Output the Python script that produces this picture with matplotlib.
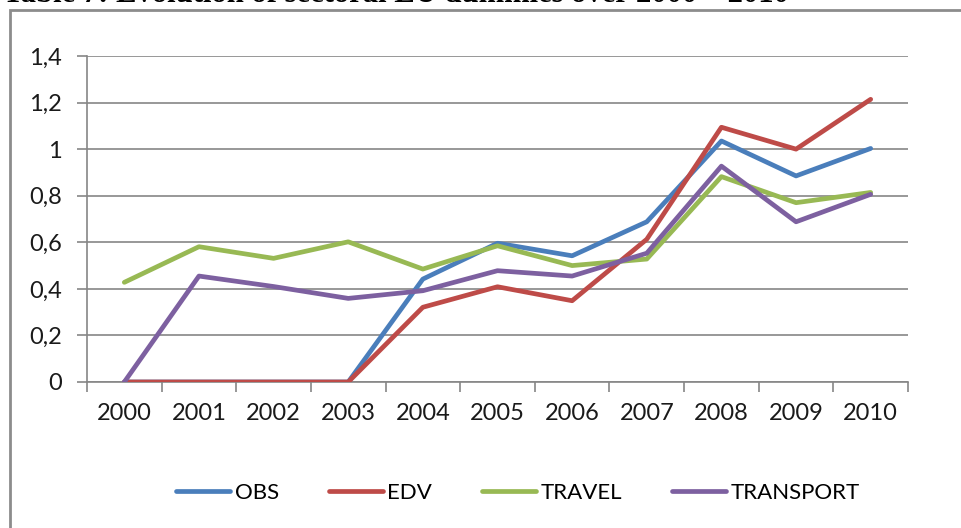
import matplotlib
matplotlib.use("Agg")
import matplotlib.pyplot as plt
from matplotlib.patches import Rectangle

years = ["2000", "2001", "2002", "2003", "2004", "2005", "2006", "2007", "2008", "2009", "2010"]
obs = [0, 0, 0, 0, 0.442, 0.596, 0.542, 0.688, 1.035, 0.885, 1.003]
edv = [0, 0, 0, 0, 0.321, 0.409, 0.349, 0.613, 1.094, 1.000, 1.214]
travel = [0.428, 0.581, 0.531, 0.602, 0.485, 0.585, 0.500, 0.528, 0.882, 0.770, 0.814]
transport = [0, 0.455, 0.410, 0.359, 0.392, 0.478, 0.455, 0.553, 0.927, 0.688, 0.806]
yticks = [0, 0.2, 0.4, 0.6, 0.8, 1.0, 1.2, 1.4]
ytick_labels = ["0", "0,2", "0,4", "0,6", "0,8", "1", "1,2", "1,4"]
title = "Table 7: Evolution of sectoral EU dummies over 2000 \u2013 2010"

W, H = 961, 528
fig = plt.figure(figsize=(W / 100, H / 100), dpi=100)
plt.rcParams['font.family'] = ['Lato', 'DejaVu Sans']

# outer chart border
fig.patches.append(Rectangle((10 / W, -0.05), 1.2, (H - 10) / H + 0.05, transform=fig.transFigure,
                             fill=False, edgecolor="#8c8c8c", linewidth=2.0, zorder=0))

# cut-off caption above the chart
t = fig.text(3 / W, 1 - 1.5 / H, title, family="Liberation Serif", weight="bold",
             fontsize=20, ha="left", va="baseline")
fig.canvas.draw()
bb = t.get_window_extent()
t.set_fontsize(20 * 787 / bb.width)

ax = fig.add_axes([87 / W, (H - 382) / H, (908 - 87) / W, (382 - 56) / H])
x = list(range(len(years)))
colors = ["#4A7EBB", "#BE4B48", "#98B954", "#7D60A0"]
names = ["OBS", "EDV", "TRAVEL", "TRANSPORT"]
for data, c, n in zip([obs, edv, travel, transport], colors, names):
    ax.plot(x, data, color=c, linewidth=3.4, label=n, solid_capstyle="round", solid_joinstyle="round", zorder=3)

ax.set_xlim(-0.5, len(years) - 0.5)
ax.set_ylim(0, 1.4)
ax.set_yticks(yticks)
ax.set_yticklabels(ytick_labels)
ax.set_xticks(x)
ax.set_xticklabels(years)
ax.set_xticks([i - 0.5 for i in range(len(years) + 1)], minor=True)
ax.tick_params(axis="x", which="major", length=0, pad=15, labelsize=17, colors="#000000")
ax.tick_params(axis="x", which="minor", length=7, width=1.2, color="#868686")
ax.tick_params(axis="y", which="major", length=7, width=1.2, color="#868686", labelsize=17, pad=11)
for lab in ax.get_xticklabels() + ax.get_yticklabels():
    lab.set_color("#1a1a1a")
ax.grid(axis="y", color="#868686", linewidth=1.2)
ax.set_axisbelow(True)
for s in ["top", "right"]:
    ax.spines[s].set_visible(False)
ax.spines["left"].set_color("#868686")
ax.spines["left"].set_linewidth(1.2)
ax.spines["bottom"].set_color("#868686")
ax.spines["bottom"].set_linewidth(1.2)

fig.legend(loc="center", bbox_to_anchor=(518 / W, 1 - 493 / H), ncol=4, frameon=False,
           fontsize=16, handlelength=2.43, handletextpad=0.2, columnspacing=2.25)

fig.savefig("out.png", dpi=100)
